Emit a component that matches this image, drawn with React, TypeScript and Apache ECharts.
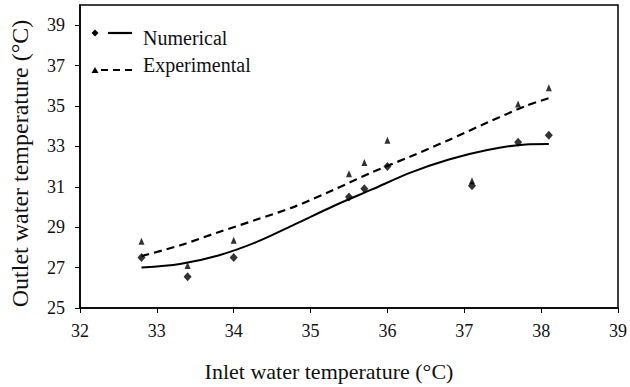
import React, { useEffect, useRef } from "react";
import * as echarts from "echarts";

const inletTemps = [32.8, 33.4, 34.0, 35.5, 35.7, 36.0, 37.1, 37.7, 38.1];
const numericalValues = [27.5, 26.55, 27.5, 30.5, 30.9, 32.0, 31.05, 33.2, 33.55];
const experimentalValues = [28.3, 27.1, 28.35, 31.65, 32.2, 33.3, 31.3, 35.1, 35.9];

const trendX = [32.8, 33.3, 33.8, 34.3, 34.8, 35.3, 35.8, 36.3, 36.8, 37.3, 37.8, 38.1];
const numTrendY = [27.0, 27.18, 27.6, 28.27, 29.15, 30.05, 30.87, 31.7, 32.35, 32.82, 33.1, 33.12];
const expTrendY = [27.57, 28.1, 28.75, 29.38, 30.03, 30.85, 31.72, 32.5, 33.32, 34.18, 35.0, 35.39];

const yTickValues = [25, 27, 29, 31, 33, 35, 37, 39];
const xTickValues = [32, 33, 34, 35, 36, 37, 38, 39];

const FONT = "'Liberation Serif', 'Times New Roman', serif";

export default function App() {
  const ref = useRef<HTMLDivElement>(null);
  useEffect(() => {
    if (!ref.current) return;
    const chart = echarts.init(ref.current, null, { renderer: "svg" });
    const zip = (xs: number[], ys: number[]) => xs.map((x, i) => [x, ys[i]]);
    chart.setOption({
      animation: false,
      backgroundColor: "#fff",
      grid: {
        left: 75,
        right: 10,
        top: 5,
        bottom: 72,
        show: true,
        borderColor: "#000",
        borderWidth: 1.5,
      },
      xAxis: {
        type: "value",
        min: 32,
        max: 39,
        interval: 1,
        name: "Inlet water temperature (°C)",
        nameLocation: "middle",
        nameGap: 52,
        nameTextStyle: { fontFamily: FONT, fontSize: 22, color: "#111", padding: [0, 40, 0, 0] },
        axisLine: { lineStyle: { color: "#000", width: 1.5 } },
        axisTick: { show: true, length: 5, lineStyle: { color: "#000" }, customValues: xTickValues },
        axisLabel: { fontFamily: FONT, fontSize: 18, color: "#111", margin: 14, customValues: xTickValues },
        splitLine: { show: false },
      },
      yAxis: {
        type: "value",
        min: 25,
        max: 40,
        name: "Outlet water temperature (°C)",
        nameLocation: "middle",
        nameGap: 48,
        nameTextStyle: { fontFamily: FONT, fontSize: 24, color: "#111", padding: [0, 14, 0, 0] },
        axisLine: { lineStyle: { color: "#000", width: 1.5 } },
        axisTick: { show: true, length: 5, lineStyle: { color: "#000" }, customValues: yTickValues },
        axisLabel: { fontFamily: FONT, fontSize: 18, color: "#111", margin: 15, customValues: yTickValues },
        splitLine: { show: false },
      },
      series: [
        {
          name: "Numerical trend",
          type: "line",
          smooth: 0.3,
          symbol: "none",
          data: zip(trendX, numTrendY),
          lineStyle: { color: "#000", width: 2 },
        },
        {
          name: "Experimental trend",
          type: "line",
          smooth: 0.3,
          symbol: "none",
          data: zip(trendX, expTrendY),
          lineStyle: { color: "#000", width: 2.2, type: [8, 5] },
        },
        {
          name: "Numerical",
          type: "scatter",
          symbol: "diamond",
          symbolSize: [8, 9],
          data: zip(inletTemps, numericalValues),
          itemStyle: { color: "#000" },
        },
        {
          name: "Experimental",
          type: "scatter",
          symbol: "triangle",
          symbolSize: [6, 7],
          data: zip(inletTemps, experimentalValues),
          itemStyle: { color: "#000" },
        },
      ],
      graphic: [
        { type: "polygon", shape: { points: [[95, 29.5], [98.5, 33], [95, 36.5], [91.5, 33]] }, style: { fill: "#000" } },
        { type: "line", shape: { x1: 108, y1: 33, x2: 132, y2: 33 }, style: { stroke: "#000", lineWidth: 2.2 } },
        { type: "text", x: 143, y: 38, style: { text: "Numerical", font: `20px ${FONT}`, fill: "#111", textVerticalAlign: "middle" } },
        { type: "polygon", shape: { points: [[95, 67], [98.5, 73], [91.5, 73]] }, style: { fill: "#000" } },
        { type: "line", shape: { x1: 101, y1: 70, x2: 132, y2: 70 }, style: { stroke: "#000", lineWidth: 2.2, lineDash: [7, 5] } },
        { type: "text", x: 143, y: 65, style: { text: "Experimental", font: `20px ${FONT}`, fill: "#111", textVerticalAlign: "middle" } },
      ],
    });
    return () => chart.dispose();
  }, []);
  return <div ref={ref} style={{ width: 630, height: 387, position: "absolute", left: 0, top: 0 }} />;
}
